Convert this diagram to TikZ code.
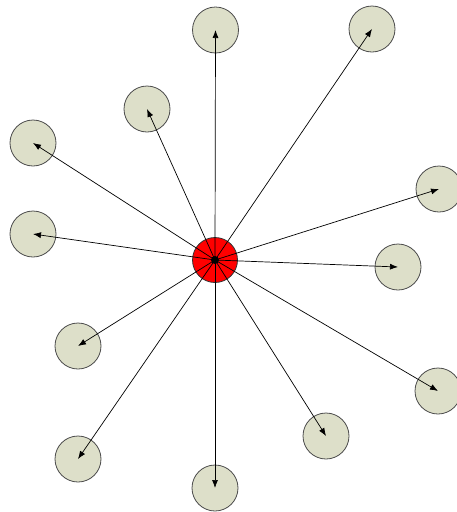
\documentclass[tikz,border=0pt]{standalone}
\usetikzlibrary{arrows.meta}
\definecolor{leaf}{RGB}{221,223,201}
\begin{document}
\begin{tikzpicture}[x=1pt,y=-1pt,
  leafnode/.style={circle,draw=black!70,fill=leaf,minimum size=46pt,inner sep=0pt,line width=0.8pt},
  hub/.style={circle,draw=black!80,fill=red,minimum size=45pt,inner sep=0pt,line width=0.8pt},
  hubdot/.style={circle,fill=black,minimum size=8pt,inner sep=0pt},
  spoke/.style={-{Latex[length=8pt,width=6pt]},line width=0.7pt}]
\useasboundingbox (0,0) rectangle (456,512);
\node[hub] (h) at (215,260) {};
\foreach \n/\x/\y in {1/215.5/30,2/372/29,3/147/109,4/33/143,5/439/189,6/33/234,7/398/267,8/78/346,9/438/391,10/326/436,11/78/459,12/215/488}{
  \node[leafnode] (l\n) at (\x,\y) {};
}
\foreach \n in {1,...,12}{
  \draw[spoke] (h.center) -- (l\n.center);
}
\node[hubdot] (d) at (h.center) {};
\end{tikzpicture}
\end{document}
